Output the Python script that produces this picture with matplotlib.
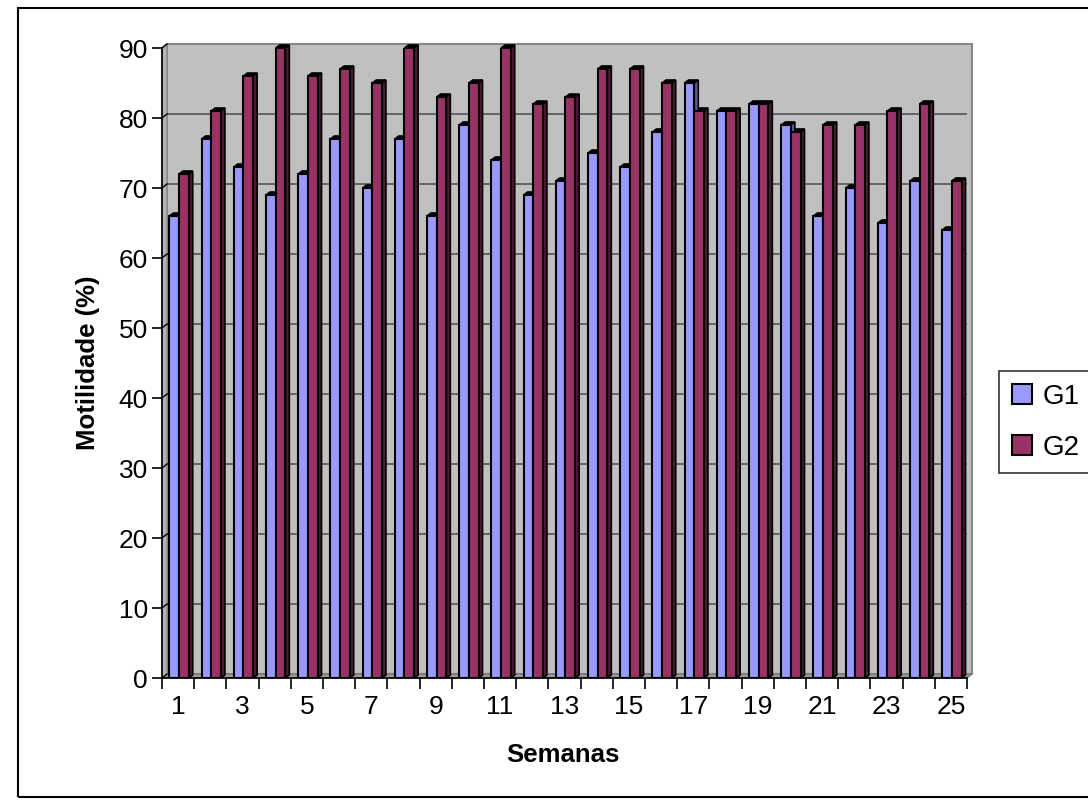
import matplotlib
matplotlib.use("Agg")
import matplotlib.pyplot as plt
import matplotlib.transforms as mtransforms
from matplotlib.patches import Polygon, Rectangle
import numpy as np

plt.rcParams['font.family'] = ['Liberation Sans', 'DejaVu Sans']

semanas = list(range(1, 26))
g1 = [66, 77, 73, 69, 72, 77, 70, 77, 66, 79, 74, 69, 71, 75, 73, 78, 85, 81, 82, 79, 66, 70, 65, 71, 64]
g2 = [72, 81, 86, 90, 86, 87, 85, 90, 83, 85, 90, 82, 83, 87, 87, 85, 81, 81, 82, 78, 79, 79, 81, 82, 71]
series = [("G1", g1, "#9999ff", "#5c5c99"), ("G2", g2, "#993366", "#4d1a33")]
yticks = list(range(0, 91, 10))

W, H = 1088, 805
fig = plt.figure(figsize=(W / 100, H / 100), dpi=100)
fig.patches.append(Rectangle((18 / W, 8 / H), 1.2, (797 - 8) / H, transform=fig.transFigure,
                             fill=False, edgecolor='black', linewidth=1.5))

L, R, B, T = 162, 967, 678, 48
ax = fig.add_axes([L / W, 1 - B / H, (R - L) / W, (B - T) / H])
ax.set_facecolor('none')
ax.set_xlim(0.5, 25.5)
ax.set_ylim(0, 90)
for s in ['top', 'right']:
    ax.spines[s].set_visible(False)
ax.spines['left'].set_color('black')
ax.spines['bottom'].set_color('black')
ax.spines['left'].set_linewidth(1.2)
ax.spines['bottom'].set_linewidth(1.2)

wx, wy = 5, 4  # wall depth in pixels
wall_ax = mtransforms.offset_copy(ax.transAxes, fig=fig, x=wx, y=wy, units='dots')
wall_data = mtransforms.offset_copy(ax.transData, fig=fig, x=wx, y=wy, units='dots')

# back wall
ax.add_patch(Rectangle((0, 0), 1, 1, transform=wall_ax, facecolor='#c0c0c0',
                       edgecolor='#888888', linewidth=1.5, zorder=0, clip_on=False))
# left wall
p = ax.transAxes.transform([(0, 0), (0, 1)])
ax.add_patch(Polygon([p[0], p[1], p[1] + [wx, wy], p[0] + [wx, wy]], closed=True, transform=None,
                     facecolor='#b4b4b4', edgecolor='#888888', linewidth=1, zorder=0.5, clip_on=False))
# floor
p = ax.transAxes.transform([(0, 0), (1, 0)])
ax.add_patch(Polygon([p[0], p[1], p[1] + [wx, wy], p[0] + [wx, wy]], closed=True, transform=None,
                     facecolor='#9a9a9a', edgecolor='#777777', linewidth=1, zorder=0.5, clip_on=False))
# gridlines on back wall
ax.hlines(yticks[1:-1], 0.5, 25.5, transform=wall_data, colors='#555555', linewidth=1.2, zorder=0.6)
# connecting tick diagonals
for v in yticks:
    q = ax.transData.transform([(0.5, v)])[0]
    ax.plot([q[0], q[0] + wx], [q[1], q[1] + wy], transform=None, color='black',
            linewidth=1, zorder=0.7, clip_on=False)

x = np.arange(1, 26)
bw = 0.3
dx, dy = 4, 3  # bar depth in pixels

for i, (name, vals, col, dark) in enumerate(series):
    pos = x + (i - 0.5) * bw + 0.03
    bars = ax.bar(pos, vals, width=bw, color=col, edgecolor='black', linewidth=1.5,
                  label=name, zorder=3)
    for b in bars:
        x0 = b.get_x(); x1 = x0 + b.get_width(); h = b.get_height()
        disp = ax.transData.transform([(x0, h), (x1, h)])
        pts = [disp[0], disp[1], disp[1] + [dx, dy], disp[0] + [dx, dy]]
        ax.add_patch(Polygon(pts, closed=True, transform=None, facecolor='black',
                             edgecolor='black', linewidth=1.2, zorder=2.9 - 0.01 * i, clip_on=False))
        d2 = ax.transData.transform([(x1, 0), (x1, h)])
        pts2 = [d2[0], d2[1], d2[1] + [dx, dy], d2[0] + [dx, dy]]
        ax.add_patch(Polygon(pts2, closed=True, transform=None, facecolor=dark,
                             edgecolor='black', linewidth=1.2, zorder=2.9 - 0.01 * i, clip_on=False))

ax.set_yticks(yticks)
ax.tick_params(axis='y', labelsize=19, length=7, width=1.2, pad=3)
ax.set_xticks(x[::2])
ax.set_xticklabels([str(s) for s in semanas[::2]], fontsize=19)
ax.set_xticks(np.arange(0.5, 26, 1), minor=True)
ax.tick_params(axis='x', which='major', length=0, pad=12)
ax.tick_params(axis='x', which='minor', length=8, width=1.2)
ax.set_ylabel('Motilidade (%)', fontsize=18.5, fontweight='bold', va='center')
ax.yaxis.set_label_coords(-0.092, 0.5)
ax.set_xlabel('Semanas', fontsize=18.5, fontweight='bold', va='center')
ax.xaxis.set_label_coords(0.498, -0.122)

leg = fig.legend(loc='upper left', bbox_to_anchor=(999 / W, 1 - 371 / H), fontsize=20,
                 frameon=True, fancybox=False, edgecolor='black', handlelength=0.72,
                 handleheight=0.72, handletextpad=0.4, borderpad=0.45, labelspacing=0.9,
                 borderaxespad=0)
leg.get_frame().set_linewidth(1.2)

fig.savefig('out.png', dpi=100)
